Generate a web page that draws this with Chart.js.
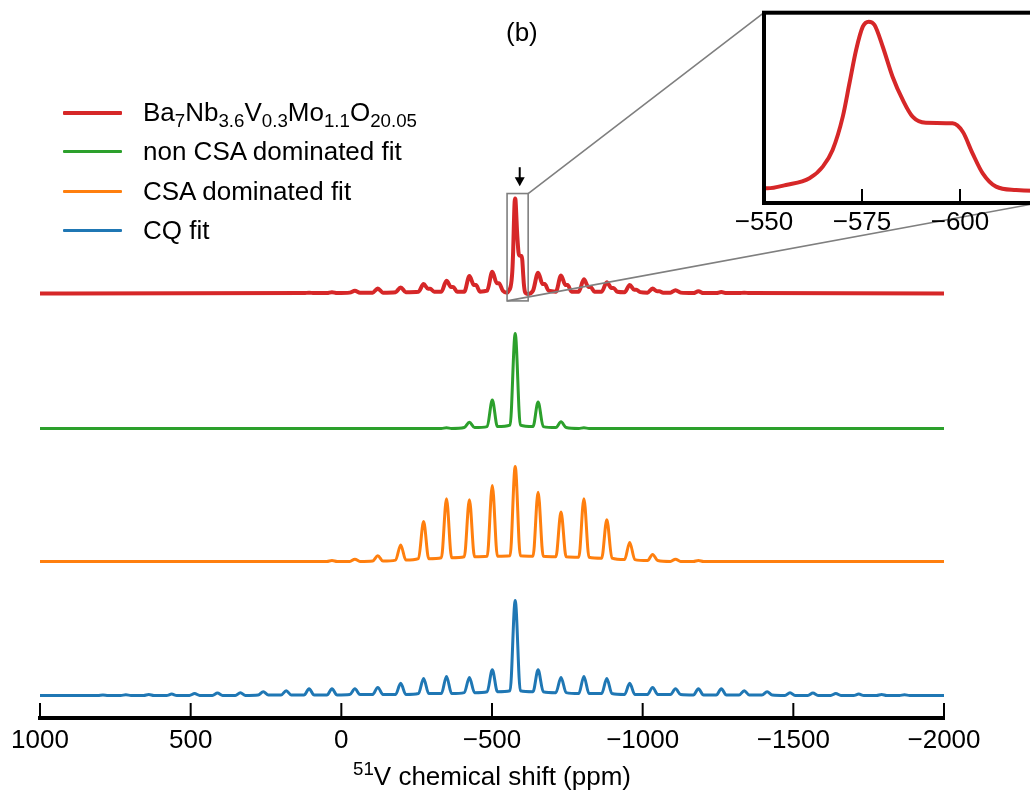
<!DOCTYPE html>
<html>
<head>
<meta charset="utf-8">
<script src="https://cdn.jsdelivr.net/npm/chart.js@4.4.1/dist/chart.umd.min.js"></script>
<style>
  body { margin: 0; width: 1030px; height: 795px; overflow: hidden; position: relative; background: #fff;
         font-family: "Liberation Sans", Arial, sans-serif; color: #000; }
  canvas { position: absolute; top: 0; }
  #mainChart { left: 0; }
  #insetChart { left: 700px; }
  .txt { position: absolute; font-size: 26px; line-height: 30px; white-space: nowrap; }
  #legend { position: absolute; left: 63px; top: 93px; }
  .row { height: 39.3px; display: flex; align-items: center; font-size: 26px; white-space: nowrap; }
  .swatch { width: 59px; margin-right: 21px; border-radius: 1px; }
  sub { font-size: 0.72em; vertical-align: -0.3em; line-height: 0; }
  sup { font-size: 0.72em; vertical-align: 0.55em; line-height: 0; }
</style>
</head>
<body>
<canvas id="mainChart" width="1030" height="795"></canvas>
<canvas id="insetChart" width="360" height="240"></canvas>

<div class="txt" style="left:506px; top:17px;">(b)</div>
<div class="txt" style="left:40px; width:904px; top:761px; text-align:center;"><sup>51</sup>V chemical shift (ppm)</div>

<div id="legend">
  <div class="row"><span class="swatch" style="height:4px;background:#d62728"></span><span>Ba<sub>7</sub>Nb<sub>3.6</sub>V<sub>0.3</sub>Mo<sub>1.1</sub>O<sub>20.05</sub></span></div>
  <div class="row"><span class="swatch" style="height:3px;background:#2ca02c"></span><span>non CSA dominated fit</span></div>
  <div class="row"><span class="swatch" style="height:3px;background:#ff7f0e"></span><span>CSA dominated fit</span></div>
  <div class="row"><span class="swatch" style="height:3px;background:#1f77b4"></span><span>CQ fit</span></div>
</div>

<script>
// spinning sideband positions (ppm), from k=+18 down to k=-17, centre band at -577
const sidebandPpm = [791, 715, 639, 563, 487, 411, 335, 259, 183, 107, 31, -45, -121, -197, -273, -349, -425, -501,
  -577, -653, -729, -805, -881, -957, -1033, -1109, -1185, -1261, -1337, -1413, -1489, -1565, -1641, -1717, -1793, -1869];
const centerIndex = 18;

// peak tops and local background under each band (centre band = 100)
const cqHeights = [0.5, 0.7, 1, 1.5, 2, 2.5, 3, 4, 5, 7, 7, 7, 8.5, 13, 18, 20, 19, 27,
  100, 27, 19, 20, 18, 13, 8.5, 7, 7, 7, 5, 4, 3, 2.5, 2, 1.5, 1, 0.7];
const cqFloor = [0, 0, 0, 0, 0, 0, 0, 0.5, 0.5, 0.5, 0.5, 1, 1, 1, 2, 2, 3, 4,
  5, 4, 3, 2, 2, 1, 1, 1, 0.5, 0.5, 0.5, 0.5, 0, 0, 0, 0, 0, 0];

const csaHeights = [0, 0, 0, 0, 0, 0, 0, 0, 0, 0, 1, 2.5, 6, 17.5, 42, 66, 65, 80,
  100, 73, 52, 66, 44, 20, 7.5, 2.5, 1, 0, 0, 0, 0, 0, 0, 0, 0, 0];
const csaFloor = [0, 0, 0, 0, 0, 0, 0, 0, 0, 0, 0, 0, 0.5, 1.5, 3, 4, 5, 5.5,
  6, 5.5, 5, 4.5, 3.5, 2, 1, 0, 0, 0, 0, 0, 0, 0, 0, 0, 0, 0];

const nonCsaHeights = [0, 0, 0, 0, 0, 0, 0, 0, 0, 0, 0, 0, 0, 0, 0, 0.8, 6.5, 30,
  100, 28, 7, 0.8, 0, 0, 0, 0, 0, 0, 0, 0, 0, 0, 0, 0, 0, 0];
const nonCsaFloor = [0, 0, 0, 0, 0, 0, 0, 0, 0, 0, 0, 0, 0, 0, 0, 0, 1, 2,
  3.5, 2, 1, 0, 0, 0, 0, 0, 0, 0, 0, 0, 0, 0, 0, 0, 0, 0];

const expHeights = [0, 0, 0, 0, 0, 0, 0, 0, 0, 1, 1.5, 3, 5.3, 6.5, 10, 13.5, 18.5, 23,
  100, 22, 19, 15, 12, 9, 5.3, 3.5, 2.5, 1.7, 1, 0, 0, 0, 0, 0, 0, 0];
const expShoulder = [0, 0, 0, 0, 0, 0, 0, 0, 0, 0, 0, 0, 0, 0, 5, 7, 9, 11,
  0, 10, 9, 7, 6, 4, 2.5, 0, 0, 0, 0, 0, 0, 0, 0, 0, 0, 0];
const expFloor = [0, 0, 0, 0, 0, 0, 0, 0, 0, 0.5, 0.5, 1, 1, 1.5, 2, 2, 2, 3,
  1, 3, 2, 2, 2, 1.5, 1, 1, 0.5, 0.5, 0.5, 0, 0, 0, 0, 0, 0, 0];

// measured centre band of the experimental spectrum (shown in the inset)
const centrePpm = [-550.9, -555.6, -561.6, -565, -567.5, -570.1, -571.8, -573.5, -575.2, -576.7, -578.2,
  -580.3, -582.8, -585.4, -587.9, -591.3, -598.1, -600.7, -603.2, -605.8, -609.2, -614.3, -618.5];
const centreInt = [1, 3, 7, 13.9, 23.8, 43.6, 63.4, 83.2, 97, 100, 98,
  85.1, 67.3, 53.5, 43.6, 40, 39.6, 34.6, 21.8, 9.9, 2, 0, -0.4];

// vertical stacking of the four traces: CQ, CSA, non CSA, experiment
const traceOffsets = [0, 141, 281, 423];

const xTicks = { min: -2000, max: 1000, step: 500 };
const insetView = { xMin: -620, xMax: -550, yMin: -7.7, yMax: 105.3, step: 25 };

const FONT = "'Liberation Sans', Arial, sans-serif";
const minus = (v) => String(v).replace('-', '\u2212');

function buildTrace(heights, floors, offset, shoulders, centre) {
  const pts = [{ x: 1000, y: offset }];
  sidebandPpm.forEach((c, i) => {
    if (centre && i === centerIndex) {
      centre.ppm.forEach((p, j) => pts.push({ x: p, y: offset + centre.val[j] }));
      return;
    }
    if (!heights[i]) return;
    pts.push({ x: c + 17, y: offset + floors[i] });
    pts.push({ x: c, y: offset + heights[i] });
    if (shoulders && shoulders[i]) {
      pts.push({ x: c - 15, y: offset + shoulders[i] });
      pts.push({ x: c - 22, y: offset + shoulders[i] });
      pts.push({ x: c - 35, y: offset + floors[i] });
    } else {
      pts.push({ x: c - 17, y: offset + floors[i] });
    }
  });
  pts.push({ x: -2000, y: offset });
  return pts;
}

const expData = buildTrace(expHeights, expFloor, traceOffsets[3], expShoulder, { ppm: centrePpm, val: centreInt });

function lineSet(data, color, width) {
  return {
    data: data, borderColor: color, borderWidth: width, pointRadius: 0,
    cubicInterpolationMode: 'monotone', borderJoinStyle: 'round', borderCapStyle: 'round', fill: false
  };
}

// ticks pointing into the plot, as in the figure
const inwardTicks = {
  id: 'inwardTicks',
  afterDraw(chart, args, opts) {
    const xs = chart.scales.x;
    const ctx = chart.ctx;
    const bottom = chart.chartArea.bottom;
    ctx.save();
    ctx.strokeStyle = '#000';
    ctx.lineWidth = opts.width;
    xs.ticks.forEach((t) => {
      const px = xs.getPixelForValue(t.value);
      ctx.beginPath();
      ctx.moveTo(px, bottom);
      ctx.lineTo(px, bottom - opts.length);
      ctx.stroke();
    });
    ctx.restore();
  }
};

const insetFrame = {
  id: 'insetFrame',
  afterDraw(chart) {
    const a = chart.chartArea;
    const ctx = chart.ctx;
    ctx.save();
    ctx.strokeStyle = '#000';
    ctx.lineWidth = 4;
    ctx.strokeRect(a.left, a.top, a.right - a.left, a.bottom - a.top);
    ctx.restore();
  }
};

const insetCanvas = document.getElementById('insetChart');
const insetChart = new Chart(insetCanvas.getContext('2d'), {
  type: 'line',
  data: { datasets: [lineSet(expData, '#d62728', 4)] },
  options: {
    responsive: false,
    animation: false,
    layout: { padding: { left: 64, top: 12.7, right: 21.6, bottom: 0 } },
    plugins: { legend: { display: false }, tooltip: { enabled: false }, inwardTicks: { width: 2, length: 14 } },
    scales: {
      x: {
        type: 'linear', reverse: true,
        min: insetView.xMin, max: insetView.xMax,
        grid: { display: false, drawTicks: false },
        border: { display: false },
        ticks: {
          stepSize: insetView.step, includeBounds: false, padding: 4, color: '#000',
          font: { family: FONT, size: 26 }, maxRotation: 0,
          callback: (v) => minus(v)
        },
        afterFit: (s) => { s.height = 37; }
      },
      y: {
        display: false,
        min: traceOffsets[3] + insetView.yMin, max: traceOffsets[3] + insetView.yMax
      }
    }
  },
  plugins: [inwardTicks, insetFrame]
});

// zoom box, connector lines and the arrow over the centre band
const zoomMarks = {
  id: 'zoomMarks',
  afterDatasetsDraw(chart) {
    const xs = chart.scales.x, ys = chart.scales.y;
    const ctx = chart.ctx;
    const off = traceOffsets[3];
    const l = xs.getPixelForValue(insetView.xMax), r = xs.getPixelForValue(insetView.xMin);
    const t = ys.getPixelForValue(off + insetView.yMax), b = ys.getPixelForValue(off + insetView.yMin);
    const ia = insetChart.chartArea;
    const ix = insetCanvas.offsetLeft, iy = insetCanvas.offsetTop;
    ctx.save();
    ctx.strokeStyle = '#7f7f7f';
    ctx.lineWidth = 1.6;
    ctx.strokeRect(l, t, r - l, b - t);
    ctx.beginPath();
    ctx.moveTo(r, t);
    ctx.lineTo(ix + ia.left, iy + ia.top);
    ctx.moveTo(l, b);
    ctx.lineTo(ix + ia.right, iy + ia.bottom);
    ctx.stroke();

    const ax = xs.getPixelForValue(-592);
    const top = ys.getPixelForValue(off + 133), tip = ys.getPixelForValue(off + 113);
    ctx.strokeStyle = '#000';
    ctx.fillStyle = '#000';
    ctx.lineWidth = 2;
    ctx.beginPath();
    ctx.moveTo(ax, top);
    ctx.lineTo(ax, tip - 8);
    ctx.stroke();
    ctx.beginPath();
    ctx.moveTo(ax - 5, tip - 9);
    ctx.lineTo(ax + 5, tip - 9);
    ctx.lineTo(ax, tip);
    ctx.closePath();
    ctx.fill();
    ctx.restore();
  }
};

const mainChart = new Chart(document.getElementById('mainChart').getContext('2d'), {
  type: 'line',
  data: {
    datasets: [
      lineSet(expData, '#d62728', 4),
      lineSet(buildTrace(nonCsaHeights, nonCsaFloor, traceOffsets[2]), '#2ca02c', 3),
      lineSet(buildTrace(csaHeights, csaFloor, traceOffsets[1]), '#ff7f0e', 3),
      lineSet(buildTrace(cqHeights, cqFloor, traceOffsets[0]), '#1f77b4', 3)
    ]
  },
  options: {
    responsive: false,
    animation: false,
    layout: { padding: { left: 40, right: 86, top: 0, bottom: 0 } },
    plugins: { legend: { display: false }, tooltip: { enabled: false }, inwardTicks: { width: 2, length: 15 } },
    scales: {
      x: {
        type: 'linear', reverse: true,
        min: xTicks.min, max: xTicks.max,
        grid: { display: false, drawTicks: false },
        border: { display: true, color: '#000', width: 4 },
        ticks: {
          stepSize: xTicks.step, padding: 7, color: '#000', maxRotation: 0,
          font: { family: FONT, size: 26 },
          callback: (v) => minus(v)
        },
        afterFit: (s) => { s.height = 77; }
      },
      y: { display: false, min: -23.7, max: 732 }
    }
  },
  plugins: [inwardTicks, zoomMarks]
});
</script>
</body>
</html>
